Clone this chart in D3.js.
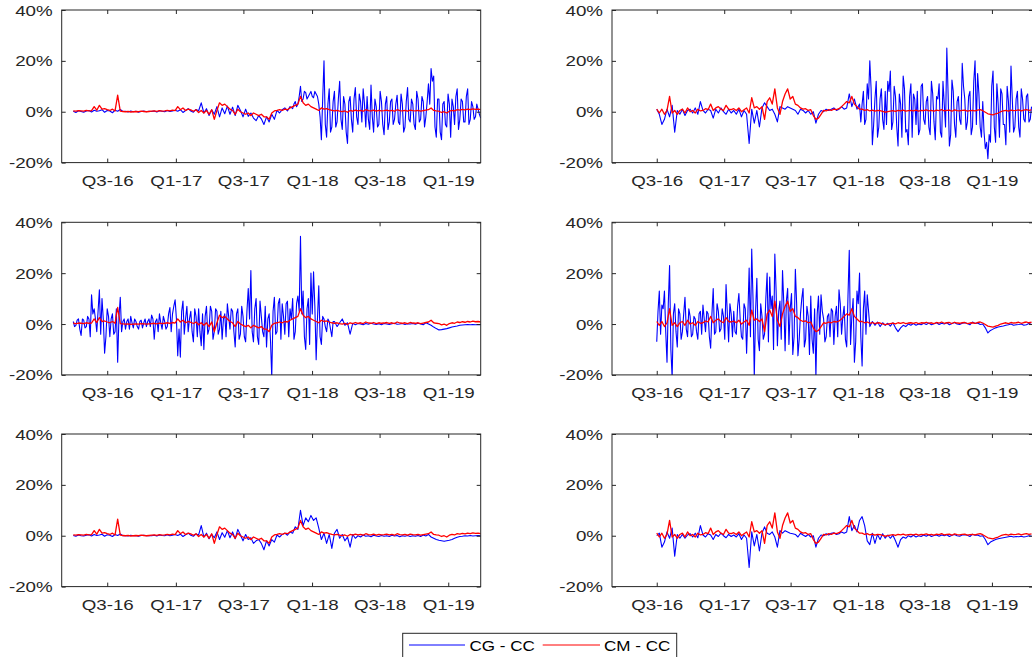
<!DOCTYPE html>
<html>
<head>
<meta charset="utf-8">
<script src="https://cdn.jsdelivr.net/npm/d3@7"></script>
<style>
  body { margin: 0; background: #fff; }
  svg { display: block; font-family: "Liberation Sans", Arial, sans-serif; }
</style>
</head>
<body>
<div id="chart"></div>
<script>
// weekly observations, left panels start 2016-04-01, right panels start 2016-07-01
let leftStart = Date.UTC(2016, 3, 1);
let rightStart = Date.UTC(2016, 6, 1);
let stepDays = 7;

let tickDates = [Date.UTC(2016, 6, 1), Date.UTC(2017, 0, 1), Date.UTC(2017, 6, 1),
                 Date.UTC(2018, 0, 1), Date.UTC(2018, 6, 1), Date.UTC(2019, 0, 1)];
let tickLabels = ["Q3-16", "Q1-17", "Q3-17", "Q1-18", "Q3-18", "Q1-19"];
let yTicks = [-20, 0, 20, 40];
let seriesNames = ["CG - CC", "CM - CC"];

// CM - CC, left column
let redLeft = [
  0.3,0.2,0.4,0.3,0.2,0.5,0.3,0.4,2,0.6,
  2.5,1,1.2,0.8,0.5,1,0.3,6.5,0.2,0.1,
  0,0.1,-0.1,0,0.1,0,0.2,0.1,0,0.1,
  0.2,0.3,0.1,0.4,0.2,0.3,0.5,0.3,0.6,0.4,
  2,0.8,1.5,0.5,1,0.7,0.2,0.8,-0.3,0.5,
  -0.5,0.5,-1,0.8,-3,0.5,3.5,2.5,3,2,
  1,0.5,-1,1,0,-0.5,-1,-0.5,-1.5,-0.5,
  -1,-1.5,-1,-2,-2,-3,-0.5,0.3,0.5,0.8,
  0.5,1,0.8,1.5,2,2.5,3,6,3.5,2.5,
  3,2,1.5,1,0.5,1.5,1,1.2,0.8,0.5,
  0.3,0.5,0.2,0,0.3,-0.2,0.5,0.2,0.6,0.3,
  0.5,0.2,0.8,0.4,0.3,0.6,0.2,0.5,0.3,0.4,
  0.6,0.3,0.5,0.2,0.8,0.4,0.3,0.5,0.2,0.6,
  0.4,0.3,0.5,0.2,0.4,0.6,0.8,1.5,0.5,0.3,
  0.2,-0.3,0,-0.5,0.2,0.5,0.3,0.8,0.6,0.9,
  0.7,1,0.8,1.1,0.9,1,0.8
];

// CM - CC, right column
let redRight = [
  1,-0.5,1,-1,0.5,6,-0.5,0.5,-1,0.5,
  1,-0.5,1.5,0,0.5,-0.5,1,0.3,0.5,1.2,
  0.8,3,0.5,1.5,2,1,0.5,2.5,1,0.8,
  1.2,0.5,1.5,0,0.8,1.5,-0.5,5.5,1.5,2,
  1,2,-3,4,5.5,3,9,1.5,-1,4,
  7,9,5,6,3,2.5,1.5,1,1.2,0.5,
  0.8,-1.5,-3,-2.5,-1,0.5,0.3,0.8,0.5,1,
  0.8,1.2,2,3,4,3.5,6,3,2,1,
  1,0.5,0.8,0.3,0.6,0.2,0.5,0.4,0.1,-0.2,
  0,0.2,0.4,0.1,0.5,0.3,0.6,0.2,0.4,0.5,
  0.3,0.6,0.2,0.5,0.4,0.7,0.3,0.5,0.2,0.6,
  0.4,0.8,0.3,0.5,0.6,0.2,0.7,0.4,0.3,0.5,
  0.6,0.2,0.4,0.5,0.3,0.6,0.8,0.4,-0.2,-0.8,
  -1,-1.2,-0.8,-0.5,0,0.3,0.5,0.2,0.6,0.4,
  0.5,0.7,0.3,0.6,0.8,0.5,0.7
];

// CG - CC, one per panel
let blue1 = [
  0.2,-0.3,0.4,0.1,-0.2,0.3,0.5,-0.1,0.6,0.2,
  0.4,0.8,-0.2,0.5,0.3,-0.4,0.6,0.2,0.9,0.1,
  0.2,-0.1,0.3,0,0.2,-0.2,0.1,0.3,0,0.2,
  0.1,0.3,-0.1,0.4,0.2,0,0.5,0.1,0.3,0.6,
  0.2,0.8,-0.3,0.5,1.2,0.3,-0.2,0.9,0.4,3.5,
  -0.5,1.2,-1.5,0.8,-1,2,-2,1.5,-0.8,2.2,
  -1,1.8,-1.5,2.5,0.5,-2,1,-1.8,-0.5,-2.5,
  -3.5,-1.5,-2.8,-5,-2,-4,-1,-3,0.5,-0.5,
  0.8,1.5,0.3,2,1.2,4,3,10,5,7.5,
  6,8,5.5,7,3,-11,20,-10,9,-6,
  8,-4,12,-7,3,-12.5,6,-8,9.5,-5,
  4,9,-6,-3,10.5,-8,2,-5,4,-9,
  6,-4,5,-3,6.5,-5,3,-6,9.5,-4,
  3,-7,5,-3,4,-2,11,17,14,-10,
  5,-11,4,-6,3,5,-5,9,-3,4,
  -4,9,-3,2,-2,1,-2.5
];
// extra mid-week readings in the volatile stretch, from week 84 on
let blue1Mid = [
  3,2,6,4,8,5,7,6,8,6,
  -2,5,-5,3,-8,4,
  -6,5,-3,6,-8,4,-3,5,-2,7,
  -4,3,6,-7,-2,5,-6,8,-5,3,
  -7,4,-5,3,-4,7,-8,4,-3,5,
  -5,8,-4,6,-6,4,3,12,-6,5,
  -8,3,-5,7,-10,2,6,-7,5,-4,
  6,-5,4,-3,3,-1
];

let blue2 = [
  1,-1,-5,-3,1,-2,2.5,-8,0.5,-1,
  1,-1.5,0.5,1,-0.5,1.5,-1,4,0.5,-0.5,
  1,0.5,-2.5,1,-0.5,1.5,0,-1,1,-0.5,
  0.5,-1,1,-2,0.5,-1,-12.5,1,-4.5,0.5,
  -6,1.5,3.5,2,0.5,1,-1,-4,2,1.5,
  1,2,1.5,1,0.5,-1,1,0.5,-0.5,0.5,
  -1,0,-4.5,-1,0.5,0,1,0.5,1,1.5,
  0.5,1,2,1,1.5,7,2,5,1,3,
  3,-5,11,20,-13,5,-10,5,-3,8,
  12,16,-4,6,-13.5,3,14,-8,-13,11,
  7,-5,-9,10,-3,4,-6,12,-4,6,
  11,-10,3,25,-13.5,12.5,-5,4,-3,19,
  5,-4,8,-6,20,15,-6,4,-14.5,-18.5,
  -12,16,-12,3,9,-5,-13,4,18,-8,
  5,-6,9,-3,6,-4,2
];
// from week 79 on
let blue2Mid = [
  -4,8,-3,5,9,-5,12,-6,9,-7,
  -5,8,-7,10,-6,7,-10,9,-7,6,
  -10,5,8,-7,11,-5,6,-9,7,-11,
  5,-8,12,-6,7,-9,8,-10,6,-5,
  10,-7,6,-9,12,-5,7,-10,-8,-12,
  -9,10,-6,11,-10,7,-5,10,-8,5,
  -6,8,-10,5,-4,7,-3
];

let blue3 = [
  1,-0.5,2,-4.5,1.5,-1,2,11.5,6,-3,
  13.5,10,-11.5,6,-5,4,-3,-15,10.5,1,
  -2,2,3,-1.5,1,-2,1.5,0.5,-1,2,
  3.5,-6,2,4,-2,1,-1,6.5,4,9.5,
  -12.5,-13,9,2,-3,5,-7,3,6,-8.5,
  -10,7,-2,5,-3,5,-2,-6,4,8,
  -2,5,-9,6,-4,3,-7,14,21,-7,
  10,-8,3,-5,-9,4,-21,10.5,-3,10,
  8,-4,9,6,10,-3,11,34.5,13,-10,
  10,20,20.5,-14,15,-8,2,-3,1,-5,
  1,-1,0.5,2,-0.5,0.5,-4,0.3,-0.3,0.2,
  0,-0.3,0.2,-0.1,0.3,0,-0.2,0.1,-0.3,0.2,
  0,-0.2,0.1,0.3,-0.1,0,0.2,-0.2,0.1,0,
  0.2,-0.1,0.3,0,-0.3,0.5,0,-0.5,-1.2,-1.8,
  -2.3,-2.2,-2,-1.8,-1.5,-1.2,-1,-0.8,-0.5,-0.4,
  -0.3,-0.2,-0.3,-0.2,-0.3,-0.2,-0.3
];
// from week 0 on
let blue3Mid = [
  -1,1.5,-2,2,-1.5,3,-5,4,2,5,
  -4,2,-5,3,2,-4,6,3,-3,2,
  1,-2,0.5,2,-1,1,-1.5,2,1,-1,
  2,1,-3,0.5,3,-2,4,-3,7,2,
  -2,5,-4,7,2,-3,6,-5,-3,4,
  3,-4,7,-6,6,-4,5,2,-5,3,
  6,-3,4,-6,7,-5,5,2,-3,6,
  -5,9,-3,7,2,-6,5,-4,8,-6,
  3,8,-5,2,-6,8,5,4,-5,6,
  -8,4,7,2,-5,3,-1,2,-2,1
];

let blue4 = [
  -7,13,7.5,13,-15,23,-21,8,-9,4,
  -3,10.5,-5,3,-4,2,-6,5,7.5,-3,
  4,-9.5,14,-3,5,-2,3,15.5,-7,4,
  5,-4,12,-5,8,-11.5,22,29.5,-21,18,
  -10.5,3,-4,20,18.5,11,27.5,-8.5,9,21,
  -10.5,14,6,-12,21.5,-12.5,4,14,-6,3,
  11,-11.5,-21,11,11.5,2,-5,4,6,-8,
  7,13.5,-4,7,-9,29,3,-15,13,20,
  -16.5,13,11.5,-1,1,-0.5,0.8,-1,0.5,-0.5,
  0.3,-0.8,0.5,-1.5,-3,-1.5,-0.5,-1,0,-0.5,
  0.2,-0.5,0,-0.3,0.3,-0.2,0.4,-0.3,0.1,0.5,
  -0.2,0.3,0,0.5,-0.3,0.2,0.6,0,-0.2,0.3,
  0.5,0.2,-0.3,0.8,0.2,0.4,-0.2,0,-1.5,-3.5,
  -2.5,-2,-1.5,-1.2,-1,-0.8,-0.5,-0.3,0,-0.5,
  -0.3,-0.2,0,-0.5,-0.3,0.2,-0.2
];
// from week 0 on
let blue4Mid = [
  5,-4,6,-3,8,-10,4,-3,6,-6,
  4,-2,6,-5,3,-3,4,-4,2,5,
  -5,4,-4,8,-3,6,-6,4,8,-5,
  -3,7,2,-6,6,4,-5,10,5,-6,
  8,-6,10,-7,6,-10,13,5,-6,8,
  9,-8,12,-5,8,-6,10,-9,7,-12,
  -6,6,4,-4,5,-7,3,-5,5,3,
  -5,8,3,-6,11,-8,10,-7,8,-5,
  6,-4
];

let blue5 = [
  0.1,-0.2,0.3,0,-0.1,0.2,0.4,-0.1,0.5,0.1,
  0.3,0.6,-0.2,0.4,0.2,-0.3,0.5,0.1,0.7,0,
  0.1,-0.1,0.2,0,0.1,-0.2,0.1,0.2,0,0.1,
  0,0.2,-0.1,0.3,0.1,0,0.4,0,0.2,0.5,
  0.1,0.6,-0.3,0.4,1,0.2,-0.2,0.7,0.3,4,
  -0.5,1,-1.2,0.6,-0.8,1.5,-1.5,1.2,-0.6,2,
  -0.8,1.5,-1.2,2.5,0.3,-2,0.5,-1.5,-0.8,-3,
  -2,-1.5,-3,-5.5,-2,-4,-1.5,-2.5,0.3,-0.5,
  0.5,1,0.2,1.5,1,3.5,2.5,10,4,7,
  5.5,8,6,7,3,-1.5,1,-3,0.5,-5,
  1,2.5,-1,0.5,-2,-0.5,-4.5,0.5,-1,0,
  -0.5,0.3,-0.2,0,-0.4,0.2,-0.1,-0.3,0.1,-0.2,
  0,-0.3,0.2,-0.1,0.1,-0.4,0,-0.2,0.1,-0.3,
  0,-0.2,0.1,-0.3,0.3,-0.1,0.5,-0.5,-1,-1.5,
  -1.8,-2,-2.2,-2,-1.8,-1.5,-1,-0.6,-0.3,-0.2,
  0,-0.1,0.1,-0.1,0,0.1,0
];

let blue6 = [
  0,1,-4.5,-2.5,1.5,-1,3,-8,0.5,-1,
  0.5,-1,0.3,0.8,-0.5,1,-0.8,4,0.3,-0.5,
  0.8,0.3,-1.5,0.5,-0.3,1,0,-0.8,0.5,-0.3,
  0.3,-0.5,0.8,-1.5,0.3,-1,-12.5,1.5,-4,0.5,
  -6,1,3.5,1,0.5,1.5,-0.5,-4.5,2,1,
  2,1.5,1,0.8,0.5,-0.5,1,0.3,-0.3,0.5,
  -0.5,0,-4.5,-1,0.3,0,0.8,0.3,1,1.2,
  0.5,0.8,1.5,1,1.5,7.5,2,4,1.5,6,
  7.5,4,-2,-3.5,1,-3,0.5,-1.5,0.8,-1,
  0.3,-1,0.2,-2,-4.5,-1.5,-0.5,-1,0,-0.5,
  0.2,-0.5,0,-0.3,0.3,-0.2,0.4,-0.3,0.1,0.3,
  -0.2,0.3,0,0.4,-0.3,0.2,0.5,0,-0.2,0.3,
  0.4,0.2,-0.3,0.6,0.2,0.3,-0.2,0,-1.5,-3.5,
  -2.5,-2,-1.5,-1.2,-1,-0.8,-0.6,-0.4,-0.2,-0.5,
  -0.3,-0.4,-0.2,-0.5,-0.3,0,-0.2
];

let svgWidth = 1032;
let svgHeight = 657;
let axisColor = "#262626";
let stretch = 1.34;   // figure was saved wider than tall, text is stretched

let rowTops = [10, 222.3, 434];
let panelHeight = 152.6;

let columns = {
  left:  { x0: 61.7, x1: 480.7, domain: [Date.UTC(2016, 2, 1), Date.UTC(2019, 2, 29)], start: leftStart },
  right: { x0: 612,  x1: 1033,  domain: [Date.UTC(2016, 2, 1), Date.UTC(2019, 3, 23)], start: rightStart }
};

let panels = [
  { col: "left",  row: 0, blue: blue1, mid: blue1Mid, midFrom: 84, red: redLeft },
  { col: "right", row: 0, blue: blue2, mid: blue2Mid, midFrom: 79, red: redRight },
  { col: "left",  row: 1, blue: blue3, mid: blue3Mid, midFrom: 0,  red: redLeft },
  { col: "right", row: 1, blue: blue4, mid: blue4Mid, midFrom: 0,  red: redRight },
  { col: "left",  row: 2, blue: blue5, mid: [], midFrom: 0, red: redLeft },
  { col: "right", row: 2, blue: blue6, mid: [], midFrom: 0, red: redRight }
];

let svg = d3.select("#chart")
  .append("svg")
  .attr("width", svgWidth)
  .attr("height", svgHeight);

let dayMs = 86400000;

// weekly values plus optional half-week readings, merged in date order
function toPoints(values, start, mids, midFrom) {
  let pts = values.map((v, i) => ({ date: start + i * stepDays * dayMs, value: v }));
  (mids || []).forEach(function(v, k) {
    pts.push({ date: start + (midFrom + k + 0.5) * stepDays * dayMs, value: v });
  });
  return pts.sort((a, b) => a.date - b.date);
}

panels.forEach(function(p, k) {
  let c = columns[p.col];
  let top = rowTops[p.row];
  let bottom = top + panelHeight;

  let x = d3.scaleUtc().domain(c.domain).range([c.x0, c.x1]);
  let y = d3.scaleLinear().domain([-20, 40]).range([bottom, top]);

  let g = svg.append("g");

  // clip lines to the axes box
  g.append("clipPath")
    .attr("id", "clip" + k)
    .append("rect")
    .attr("x", c.x0).attr("y", top)
    .attr("width", c.x1 - c.x0).attr("height", panelHeight);

  let line = d3.line()
    .x(d => x(d.date))
    .y(d => y(d.value));

  let lines = g.append("g").attr("clip-path", `url(#clip${k})`);
  lines.append("path")
    .datum(toPoints(p.blue, c.start, p.mid, p.midFrom))
    .attr("fill", "none")
    .attr("stroke", "#0000ff")
    .attr("stroke-width", 1.1)
    .attr("stroke-linejoin", "round")
    .attr("d", line);
  lines.append("path")
    .datum(toPoints(p.red, c.start))
    .attr("fill", "none")
    .attr("stroke", "#ff0000")
    .attr("stroke-width", 1.3)
    .attr("stroke-linejoin", "round")
    .attr("d", line);

  // box
  g.append("rect")
    .attr("x", c.x0).attr("y", top)
    .attr("width", c.x1 - c.x0).attr("height", panelHeight)
    .attr("fill", "none")
    .attr("stroke", axisColor)
    .attr("stroke-width", 1);

  // inward ticks on all four sides
  let bottomAxis = d3.axisBottom(x).tickValues(tickDates).tickSizeInner(-4).tickSizeOuter(0).tickFormat((d, i) => tickLabels[i]);
  let topAxis = d3.axisTop(x).tickValues(tickDates).tickSizeInner(-4).tickSizeOuter(0).tickFormat("");
  let leftAxis = d3.axisLeft(y).tickValues(yTicks).tickSizeInner(-4).tickSizeOuter(0).tickFormat(d => d + "%");
  let rightAxis = d3.axisRight(y).tickValues(yTicks).tickSizeInner(-4).tickSizeOuter(0).tickFormat("");

  let xAxis = g.append("g").attr("transform", `translate(0,${bottom})`).call(bottomAxis);
  g.append("g").attr("transform", `translate(0,${top})`).call(topAxis);
  let yAxis = g.append("g").attr("transform", `translate(${c.x0},0)`).call(leftAxis);
  g.append("g").attr("transform", `translate(${c.x1},0)`).call(rightAxis);

  g.selectAll(".domain").remove();
  g.selectAll(".tick line").attr("stroke", axisColor);

  xAxis.selectAll("text")
    .attr("y", null).attr("dy", null)
    .attr("fill", axisColor)
    .attr("font-size", 14)
    .attr("transform", `translate(0,23.5) scale(${stretch},1)`);

  yAxis.selectAll("text")
    .attr("x", null).attr("dy", null)
    .attr("fill", axisColor)
    .attr("font-size", 14)
    .attr("transform", `translate(-9,5) scale(${stretch},1)`);
});

// legend
let legend = svg.append("g");
legend.append("rect")
  .attr("x", 402.7).attr("y", 633.3)
  .attr("width", 274).attr("height", 30)
  .attr("fill", "#fff")
  .attr("stroke", axisColor)
  .attr("stroke-width", 1);

let legendItems = [
  { name: seriesNames[0], color: "#0000ff", x1: 409, x2: 465, tx: 469.5 },
  { name: seriesNames[1], color: "#ff0000", x1: 542.7, x2: 600, tx: 604 }
];
legendItems.forEach(function(it) {
  legend.append("line")
    .attr("x1", it.x1).attr("x2", it.x2)
    .attr("y1", 645).attr("y2", 645)
    .attr("stroke", it.color)
    .attr("stroke-width", 1);
  legend.append("text")
    .attr("transform", `translate(${it.tx},650.5) scale(1.22,1)`)
    .attr("font-size", 14)
    .attr("fill", "#000")
    .text(it.name);
});
</script>
</body>
</html>
